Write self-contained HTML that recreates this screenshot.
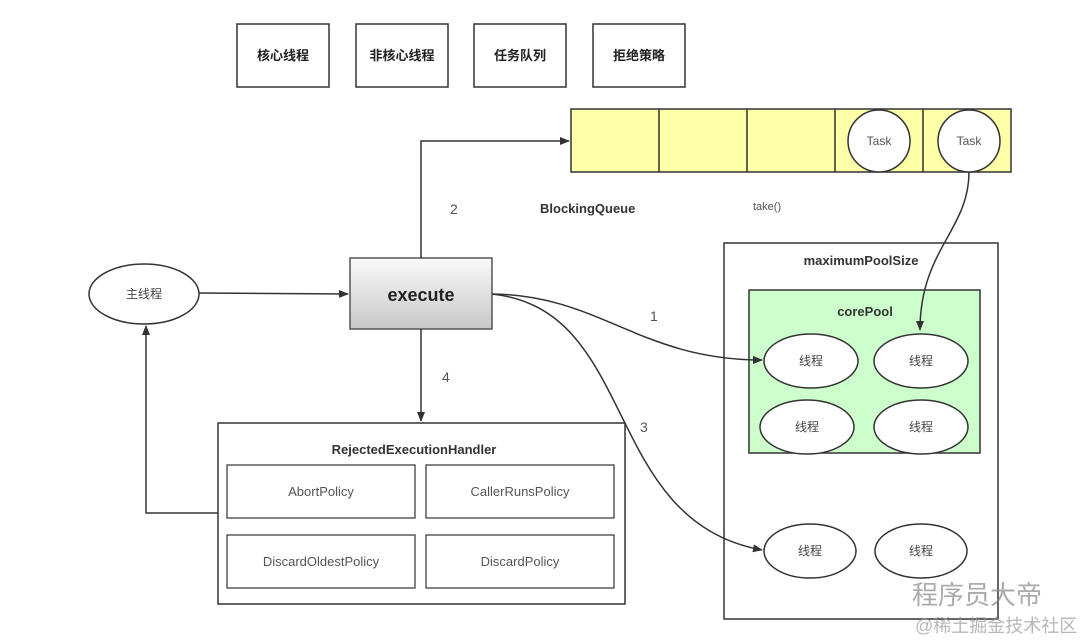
<!DOCTYPE html>
<html><head><meta charset="utf-8"><style>
html,body{margin:0;padding:0;background:#fff;}
svg{display:block;font-family:"Liberation Sans","Noto Sans CJK SC",sans-serif;}
</style></head><body>
<svg width="1080" height="642" viewBox="0 0 1080 642">
<defs>
<marker id="a" markerWidth="10" markerHeight="10" refX="9" refY="5" orient="auto" markerUnits="userSpaceOnUse">
<path d="M0,1 L10,5 L0,9 Z" fill="#333"/></marker>
<linearGradient id="g" x1="0" y1="0" x2="0" y2="1"><stop offset="0" stop-color="#fafafa"/><stop offset="1" stop-color="#c8c8c8"/></linearGradient>
</defs>
<g fill="#fff" stroke="#333" stroke-width="1.5">
<rect x="237" y="24" width="92" height="63"/>
<rect x="356" y="24" width="92" height="63"/>
<rect x="474" y="24" width="92" height="63"/>
<rect x="593" y="24" width="92" height="63"/>
</g>
<g font-size="13" font-weight="bold" text-anchor="middle" fill="#222">
<text x="283" y="60">核心线程</text><text x="402" y="60">非核心线程</text><text x="520" y="60">任务队列</text><text x="639" y="60">拒绝策略</text>
</g>
<rect x="571" y="109" width="440" height="63" fill="#ffffa8" stroke="#333" stroke-width="1.5"/>
<g stroke="#333" stroke-width="1.5"><line x1="659" y1="109" x2="659" y2="172"/><line x1="747" y1="109" x2="747" y2="172"/><line x1="835" y1="109" x2="835" y2="172"/><line x1="923" y1="109" x2="923" y2="172"/></g>
<circle cx="879" cy="141" r="31" fill="#fff" stroke="#333" stroke-width="1.5"/>
<circle cx="969" cy="141" r="31" fill="#fff" stroke="#333" stroke-width="1.5"/>
<g font-size="12" fill="#555" text-anchor="middle"><text x="879" y="145">Task</text><text x="969" y="145">Task</text></g>
<text x="540" y="213" font-size="13" font-weight="bold" fill="#333">BlockingQueue</text>
<text x="753" y="210" font-size="11" fill="#555">take()</text>
<rect x="724" y="243" width="274" height="376" fill="#fff" stroke="#333" stroke-width="1.5"/>
<text x="861" y="265" font-size="13" font-weight="bold" text-anchor="middle" fill="#333">maximumPoolSize</text>
<rect x="749" y="290" width="231" height="163" fill="#ccffcc" stroke="#333" stroke-width="1.5"/>
<text x="865" y="316" font-size="13" font-weight="bold" text-anchor="middle" fill="#333">corePool</text>
<g fill="#fff" stroke="#333" stroke-width="1.5">
<ellipse cx="811" cy="361" rx="47" ry="27"/><ellipse cx="921" cy="361" rx="47" ry="27"/>
<ellipse cx="807" cy="427" rx="47" ry="27"/><ellipse cx="921" cy="427" rx="47" ry="27"/>
<ellipse cx="810" cy="551" rx="46" ry="27"/><ellipse cx="921" cy="551" rx="46" ry="27"/>
<ellipse cx="144" cy="294" rx="55" ry="30"/>
</g>
<g font-size="12" fill="#444" text-anchor="middle">
<text x="811" y="365">线程</text><text x="921" y="365">线程</text><text x="807" y="431">线程</text><text x="921" y="431">线程</text><text x="810" y="555">线程</text><text x="921" y="555">线程</text><text x="144" y="298">主线程</text>
</g>
<rect x="350" y="258" width="142" height="71" fill="url(#g)" stroke="#555" stroke-width="1.5"/>
<text x="421" y="301" font-size="18" font-weight="bold" text-anchor="middle" fill="#222">execute</text>
<rect x="218" y="423" width="407" height="181" fill="#fff" stroke="#333" stroke-width="1.5"/>
<text x="414" y="454" font-size="13" font-weight="bold" text-anchor="middle" fill="#333">RejectedExecutionHandler</text>
<g fill="#fff" stroke="#333" stroke-width="1.2">
<rect x="227" y="465" width="188" height="53"/><rect x="426" y="465" width="188" height="53"/>
<rect x="227" y="535" width="188" height="53"/><rect x="426" y="535" width="188" height="53"/>
</g>
<g font-size="13" fill="#555" text-anchor="middle">
<text x="321" y="496">AbortPolicy</text><text x="520" y="496">CallerRunsPolicy</text>
<text x="321" y="566">DiscardOldestPolicy</text><text x="520" y="566">DiscardPolicy</text>
</g>
<g fill="none" stroke="#333" stroke-width="1.5">
<path d="M199,293 L348,294" marker-end="url(#a)"/>
<path d="M421,258 L421,141 L569,141" marker-end="url(#a)"/>
<path d="M421,329 L421,421" marker-end="url(#a)"/>
<path d="M218,513 L146,513 L146,326" marker-end="url(#a)"/>
<path d="M492,294 C600,295 640,360 762,360" marker-end="url(#a)"/>
<path d="M492,294 C640,310 600,520 762,550" marker-end="url(#a)"/>
<path d="M969,172 C969,230 920,250 920,330" marker-end="url(#a)"/>
</g>
<g font-size="14" fill="#555"><text x="450" y="214">2</text><text x="650" y="321">1</text><text x="442" y="382">4</text><text x="640" y="432">3</text></g>
<text x="912" y="604" font-size="26" fill="#888" opacity="0.7">程序员大帝</text>
<text x="915" y="632" font-size="18" fill="#999" opacity="0.7">@稀土掘金技术社区</text>
</svg>
</body></html>
